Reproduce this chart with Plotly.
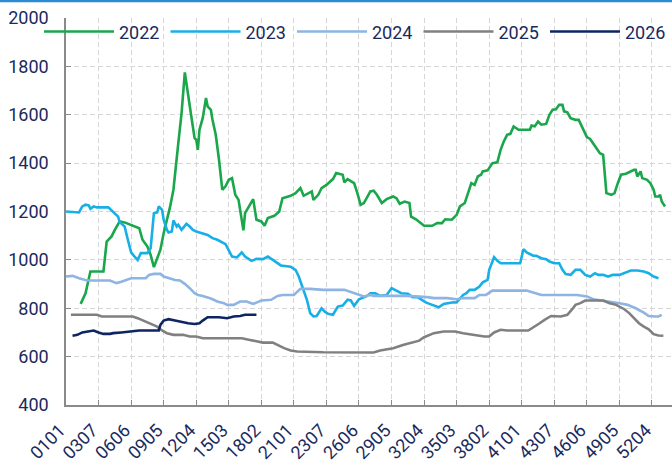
import plotly.graph_objects as go

# ---- categories (week+day codes) and tick labels ----
categories = [f"{w:02d}{d:02d}" for w in range(1, 54) for d in range(1, 8)]
tick_labels = ["0101", "0307", "0606", "0905", "1204", "1503", "1802", "2101", "2307",
               "2606", "2905", "3204", "3503", "3802", "4101", "4307", "4606", "4905", "5204"]

# ---- series (category index, value) ----
idx_2022 = [9, 12, 15, 23, 25, 28, 30, 33, 36, 38, 42, 45, 47, 50, 52, 54, 58, 60, 64, 66, 69, 71, 73, 75, 77,
            79, 80, 81, 82, 84, 86, 87, 89, 90, 92, 94, 96, 98, 100, 102, 104, 106, 109, 110, 112, 115, 117,
            120, 122, 124, 128, 131, 133, 138, 141, 144, 146, 149, 151, 152, 155, 157, 160, 164, 166, 170,
            171, 173, 177, 179, 181, 183, 185, 187, 189, 191, 194, 197, 201, 203, 205, 208, 211, 212, 215,
            218, 220, 225, 228, 231, 233, 237, 240, 242, 245, 247, 249, 251, 253, 255, 256, 259, 262, 265,
            267, 269, 271, 273, 275, 278, 282, 285, 286, 288, 290, 292, 295, 297, 299, 301, 303, 305, 306,
            308, 310, 313, 315, 317, 320, 322, 325, 328, 330, 332, 335, 337, 339, 341, 344, 347, 349, 350,
            351, 353, 354, 357, 359, 361, 362, 364, 365, 366, 368]
val_2022 = [818, 862, 952, 952, 1076, 1097, 1124, 1159, 1155, 1149, 1138, 1131, 1083, 1055, 1021, 970, 1042,
            1110, 1221, 1290, 1483, 1607, 1775, 1676, 1593, 1503, 1497, 1455, 1538, 1586, 1669, 1635, 1620,
            1579, 1517, 1414, 1290, 1304, 1331, 1338, 1269, 1248, 1122, 1193, 1214, 1251, 1166, 1159, 1141,
            1173, 1182, 1200, 1255, 1265, 1276, 1297, 1265, 1276, 1283, 1248, 1269, 1297, 1310, 1334, 1359,
            1352, 1320, 1334, 1317, 1276, 1228, 1235, 1262, 1283, 1286, 1269, 1235, 1251, 1262, 1255, 1232,
            1241, 1235, 1179, 1168, 1152, 1141, 1141, 1152, 1152, 1168, 1166, 1186, 1221, 1235, 1276, 1317,
            1310, 1345, 1352, 1366, 1370, 1400, 1403, 1455, 1490, 1517, 1521, 1552, 1538, 1538, 1538, 1555,
            1552, 1572, 1559, 1562, 1600, 1621, 1623, 1641, 1641, 1614, 1610, 1586, 1579, 1579, 1552, 1508,
            1500, 1469, 1441, 1434, 1276, 1269, 1276, 1317, 1352, 1356, 1366, 1372, 1372, 1345, 1366, 1338,
            1331, 1317, 1290, 1262, 1262, 1269, 1241, 1221]

idx_2023 = [0, 8, 10, 12, 14, 15, 17, 19, 26, 29, 32, 33, 36, 38, 40, 42, 44, 46, 50, 52, 53, 54, 56, 57, 59,
            60, 62, 63, 65, 66, 68, 69, 71, 72, 74, 76, 78, 80, 83, 87, 90, 93, 98, 102, 105, 108, 110, 114,
            117, 121, 124, 127, 130, 132, 138, 141, 143, 146, 148, 150, 152, 154, 157, 159, 161, 164, 167,
            170, 173, 175, 177, 180, 183, 185, 187, 190, 193, 197, 200, 203, 206, 210, 213, 216, 218, 221,
            225, 229, 232, 234, 238, 240, 242, 244, 246, 248, 251, 254, 256, 259, 260, 262, 263, 265, 267,
            272, 279, 280, 281, 283, 285, 287, 289, 292, 295, 297, 300, 303, 305, 307, 310, 313, 316, 319,
            322, 325, 327, 330, 333, 336, 340, 344, 347, 351, 355, 358, 361, 364]
val_2023 = [1200, 1196, 1221, 1228, 1225, 1211, 1221, 1217, 1217, 1196, 1179, 1156, 1138, 1083, 1031, 1014,
            1000, 1028, 1028, 1048, 1110, 1193, 1196, 1221, 1207, 1166, 1124, 1113, 1117, 1163, 1138, 1145,
            1124, 1131, 1149, 1138, 1124, 1117, 1110, 1103, 1090, 1083, 1065, 1014, 1010, 1031, 1014, 996,
            1004, 1003, 1014, 1000, 986, 977, 972, 959, 931, 876, 835, 780, 766, 768, 800, 786, 777, 773,
            807, 811, 835, 832, 810, 837, 846, 851, 862, 862, 851, 855, 883, 873, 862, 860, 846, 846, 837,
            824, 814, 804, 818, 821, 825, 824, 842, 855, 862, 876, 876, 890, 907, 917, 959, 1000, 1011, 996,
            986, 986, 986, 1014, 1044, 1031, 1025, 1017, 1017, 1007, 1003, 993, 986, 986, 959, 941, 938, 959,
            959, 938, 931, 945, 938, 938, 931, 938, 938, 948, 956, 956, 952, 945, 931, 924]

idx_2024 = [0, 4, 8, 13, 27, 31, 34, 37, 40, 49, 51, 54, 58, 60, 63, 67, 70, 73, 76, 79, 81, 84, 89, 93, 97,
            99, 103, 107, 111, 115, 120, 126, 130, 133, 140, 142, 144, 150, 158, 171, 175, 179, 183, 187, 189,
            209, 216, 222, 226, 234, 240, 244, 251, 254, 258, 262, 283, 287, 292, 314, 320, 324, 330, 334,
            340, 345, 350, 355, 358, 362, 364, 366]
val_2024 = [931, 934, 924, 915, 915, 904, 910, 917, 924, 924, 938, 942, 942, 931, 924, 917, 915, 901, 883,
            862, 855, 851, 840, 828, 821, 814, 814, 828, 828, 818, 832, 835, 851, 855, 855, 869, 880, 880,
            876, 876, 866, 858, 849, 855, 851, 851, 849, 846, 842, 842, 837, 842, 842, 855, 855, 873, 873,
            864, 855, 855, 849, 837, 832, 828, 821, 814, 800, 782, 768, 766, 766, 773]

idx_2025 = [3, 19, 22, 41, 44, 49, 52, 56, 59, 62, 66, 72, 76, 80, 84, 94, 108, 113, 117, 121, 127, 130, 134,
            138, 142, 158, 175, 187, 189, 193, 201, 207, 213, 217, 220, 226, 232, 239, 244, 250, 257, 260,
            263, 267, 271, 284, 288, 291, 294, 298, 304, 308, 311, 313, 316, 319, 330, 334, 338, 343, 346,
            349, 352, 355, 358, 361, 364, 367]
val_2025 = [773, 773, 766, 766, 759, 745, 738, 724, 708, 697, 690, 690, 683, 683, 676, 676, 676, 669, 662,
            658, 658, 648, 635, 625, 621, 618, 618, 619, 617, 625, 635, 648, 658, 666, 680, 697, 704, 704,
            697, 690, 683, 683, 700, 711, 708, 708, 724, 738, 752, 768, 766, 773, 796, 814, 821, 832, 832,
            821, 814, 796, 780, 759, 738, 724, 713, 693, 687, 686]

idx_2026 = [4, 7, 10, 13, 17, 20, 23, 27, 29, 34, 40, 45, 57, 58, 60, 63, 67, 72, 75, 79, 82, 84, 87, 94, 99,
            103, 107, 110, 117]
val_2026 = [686, 690, 700, 704, 708, 700, 694, 694, 697, 700, 704, 708, 708, 731, 749, 755, 749, 741, 738,
            735, 738, 749, 763, 763, 759, 766, 768, 773, 773]

series = [
    ("2022", idx_2022, val_2022, "#1aa64b"),
    ("2023", idx_2023, val_2023, "#17afe6"),
    ("2024", idx_2024, val_2024, "#8db4e2"),
    ("2025", idx_2025, val_2025, "#808080"),
    ("2026", idx_2026, val_2026, "#0d2560"),
]

TXT = "#1b2a5c"
FONT = "Roboto"

fig = go.Figure()
for name, idx, vals, color in series:
    fig.add_trace(go.Scatter(
        x=[categories[i] for i in idx], y=vals, name=name, mode="lines",
        line=dict(color=color, width=2.6), hoverinfo="skip",
    ))

fig.update_layout(
    width=672, height=471,
    margin=dict(l=66, r=0, t=18, b=66, autoexpand=False),
    paper_bgcolor="white", plot_bgcolor="white",
    font=dict(family=FONT, size=18, color=TXT),
    showlegend=True,
    legend=dict(orientation="h", x=(39 - 66) / 606, xanchor="left", y=1.012, yanchor="top",
                bgcolor="rgba(0,0,0,0)", borderwidth=0,
                font=dict(family=FONT, size=18, color=TXT),
                itemwidth=70, entrywidth=41.5, entrywidthmode="pixels", traceorder="normal"),
    xaxis=dict(type="category", categoryorder="array", categoryarray=categories,
               range=[0, 372.3], tickmode="array", tickvals=tick_labels, ticktext=tick_labels,
               tickangle=-45, showgrid=True, gridcolor="#d6d6d6", griddash="5px,3px", gridwidth=1,
               showline=True, linecolor="#8a8a8a", linewidth=1.5,
               ticks="inside", ticklen=5, tickcolor="#8a8a8a", zeroline=False,
               ticklabelstandoff=6, ticklabelshift=-6,
               tickfont=dict(family=FONT, size=18, color=TXT)),
    yaxis=dict(range=[400, 2000], tickvals=[400, 600, 800, 1000, 1200, 1400, 1600, 1800, 2000],
               showgrid=True, gridcolor="#d6d6d6", griddash="5px,3px", gridwidth=1,
               showline=True, linecolor="#8a8a8a", linewidth=1.5,
               ticks="inside", ticklen=5, tickcolor="#8a8a8a", zeroline=False,
               ticklabelstandoff=12,
               tickfont=dict(family=FONT, size=18, color=TXT)),
)

# thin blue border line at the very top of the picture
fig.add_shape(type="line", xref="paper", yref="paper", x0=-0.2, x1=1.0, y0=1 + 17/387, y1=1 + 17/387,
              line=dict(color="#2b8ad4", width=2.5))

fig.write_html("out.html", config={"displayModeBar": False},
               post_script="document.body.style.margin='0';")
